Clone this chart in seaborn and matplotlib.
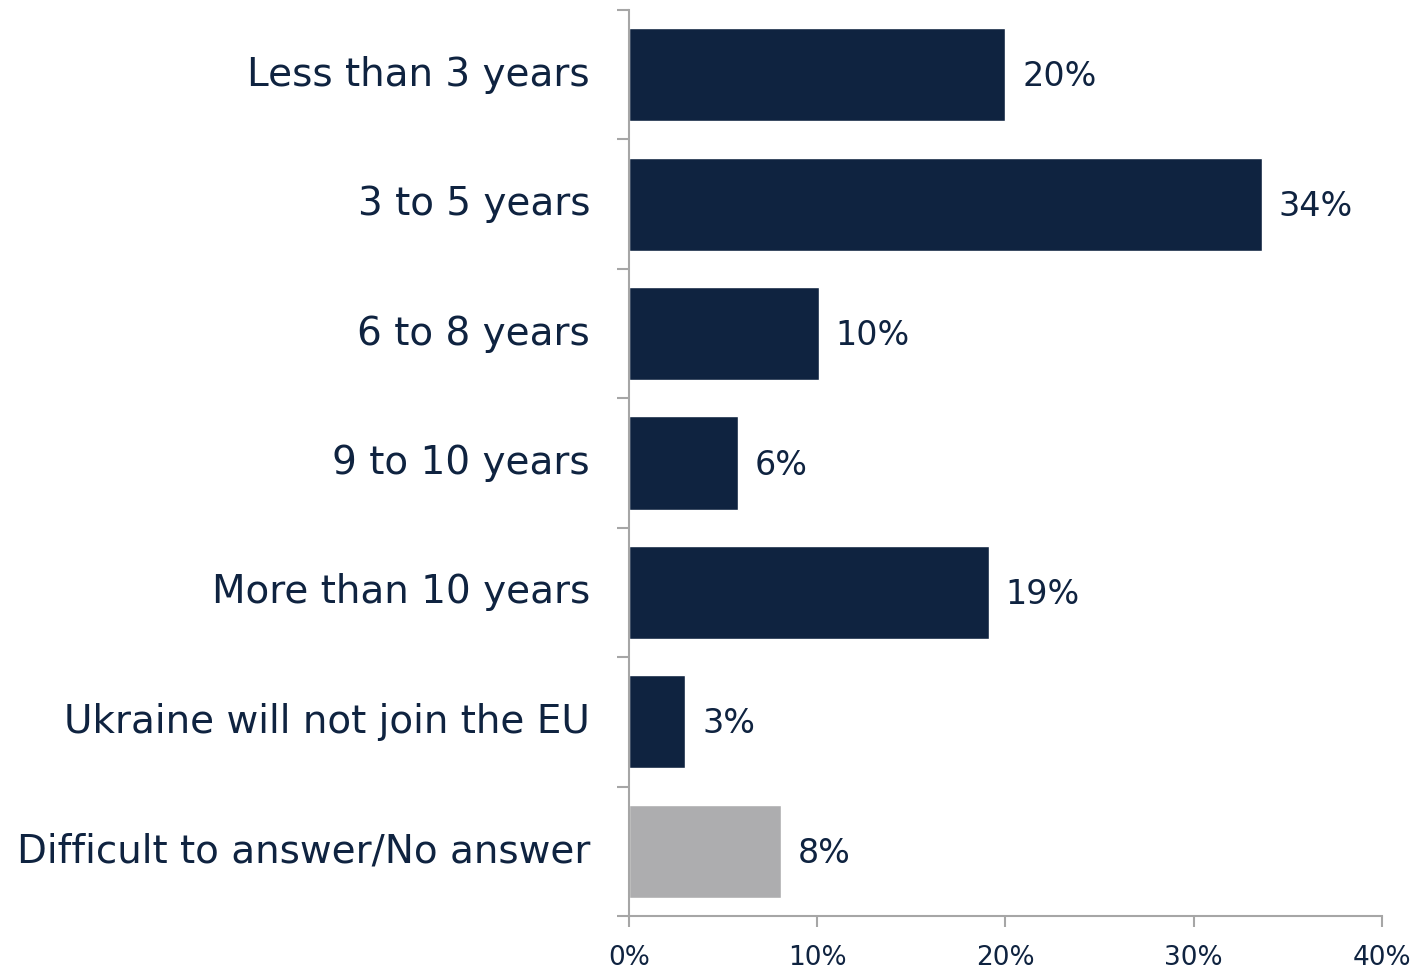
import matplotlib.pyplot as plt
import numpy as np
import pandas as pd
import seaborn as sns

categories = [
    "Less than 3 years",
    "3 to 5 years",
    "6 to 8 years",
    "9 to 10 years",
    "More than 10 years",
    "Ukraine will not join the EU",
    "Difficult to answer/No answer",
]
shares = [20.0, 33.6, 10.1, 5.8, 19.1, 3.0, 8.1]
share_labels = ["20%", "34%", "10%", "6%", "19%", "3%", "8%"]
x_ticks = [0, 10, 20, 30, 40]

navy = "#0F2340"
grey = "#ADADAF"
colors = [navy] * 6 + [grey]

df = pd.DataFrame({"answer": categories, "share": shares})

sns.set_theme(style="white")
plt.rcParams["font.family"] = ["DejaVu Sans"]

fig = plt.figure(figsize=(14.14, 9.72), dpi=100)
ax = fig.add_axes([0.4448, 0.0576, 0.5326, 0.9321])

sns.barplot(
    data=df, x="share", y="answer", hue="answer", palette=colors,
    legend=False, width=0.72, saturation=1, ax=ax,
)

for i, (v, lab) in enumerate(zip(shares, share_labels)):
    ax.annotate(lab, xy=(v, i), xytext=(12, -1.5), textcoords="offset points",
                va="center", ha="left", fontsize=24, color=navy)

ax.set_xlim(0, 40)
ax.set_ylim(6.5, -0.5)
ax.set_xticks(x_ticks)
ax.set_xticklabels([f"{t}%" for t in x_ticks], fontsize=19, color=navy)
ax.set_yticks(range(len(categories)))
ax.set_yticklabels(categories, fontsize=28, color=navy, va="center")
ax.set_yticks(np.arange(-0.5, 7, 1), minor=True)
ax.tick_params(axis="y", which="major", length=0, pad=28)
ax.tick_params(axis="y", which="minor", length=9, width=1.5, color="#A6A6A6", left=True)
ax.tick_params(axis="x", which="major", length=8, width=1.5, color="#A6A6A6",
               bottom=True, pad=13)
ax.set_xlabel(None)
ax.set_ylabel(None)

for side in ["top", "right"]:
    ax.spines[side].set_visible(False)
for side in ["left", "bottom"]:
    ax.spines[side].set_color("#A6A6A6")
    ax.spines[side].set_linewidth(1.5)

plt.savefig("out.png", dpi=100)
